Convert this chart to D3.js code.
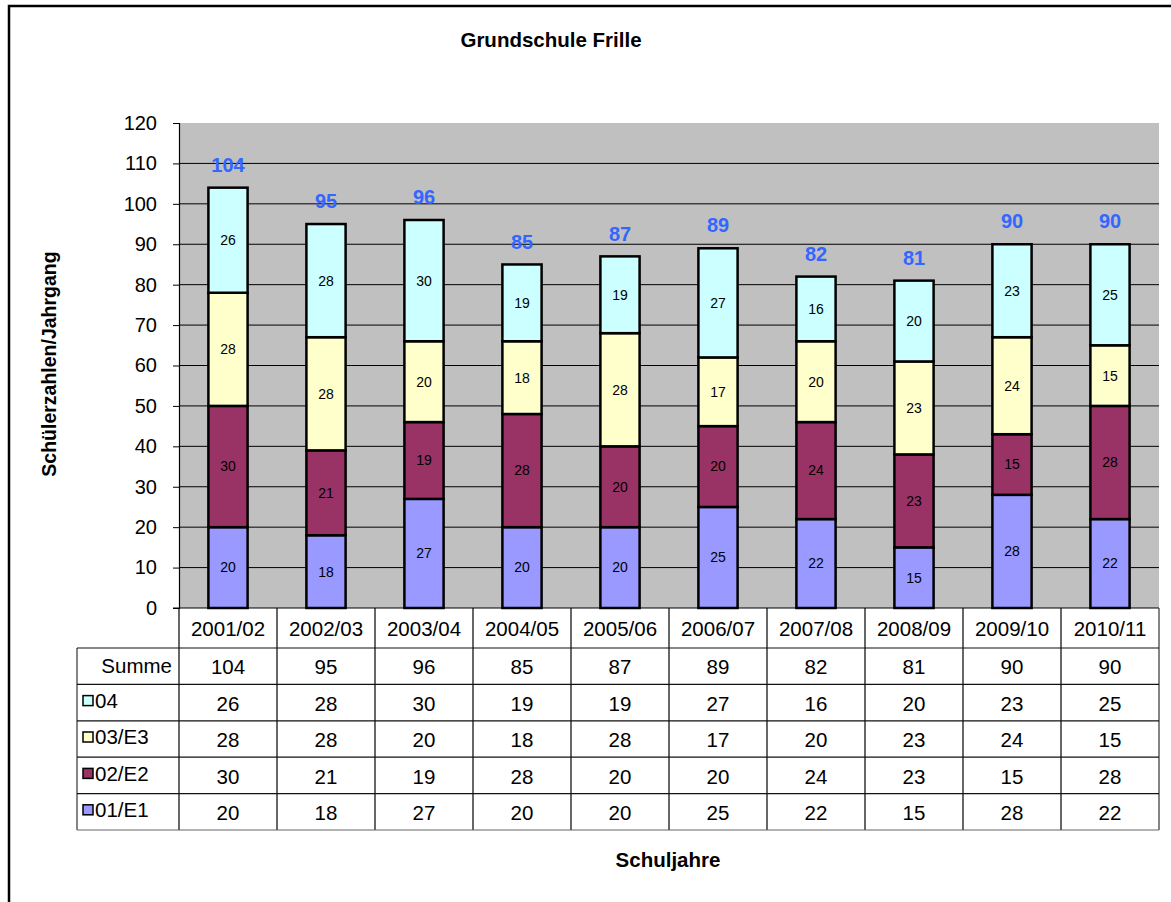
<!DOCTYPE html>
<html>
<head>
<meta charset="utf-8">
<script src="https://cdn.jsdelivr.net/npm/d3@7"></script>
<style>
  html, body { margin: 0; padding: 0; background: #fff; }
  svg { display: block; font-family: "Liberation Sans", Arial, sans-serif; }
</style>
</head>
<body>
<svg id="chart" width="1171" height="902"></svg>
<script>
// ---- data ----
const categories = ["2001/02","2002/03","2003/04","2004/05","2005/06","2006/07","2007/08","2008/09","2009/10","2010/11"];
const seriesNames = ["01/E1","02/E2","03/E3","04"];
const s01E1 = [20,18,27,20,20,25,22,15,28,22];
const s02E2 = [30,21,19,28,20,20,24,23,15,28];
const s03E3 = [28,28,20,18,28,17,20,23,24,15];
const s04   = [26,28,30,19,19,27,16,20,23,25];
const summe = [104,95,96,85,87,89,82,81,90,90];
const yTicks = [0,10,20,30,40,50,60,70,80,90,100,110,120];
const colors = ["#9999FF","#993366","#FFFFCC","#CCFFFF"];

(function () {
const seriesValues = [s01E1, s02E2, s03E3, s04];
const rows = categories.map((c, i) => {
  const r = { cat: c };
  seriesNames.forEach((n, k) => r[n] = seriesValues[k][i]);
  return r;
});

const svg = d3.select("#chart");

// outer frame
svg.append("rect").attr("x", 9).attr("y", 6).attr("width", 1300).attr("height", 1000)
  .attr("fill", "#fff").attr("stroke", "#000").attr("stroke-width", 2.5);

const pL = 179, pR = 1159, pT = 123, pB = 608;
const x = d3.scaleBand().domain(categories).range([pL, pR]).padding(0);
const y = d3.scaleLinear().domain([0, 120]).range([pB, pT]);
const barW = x.bandwidth() * 0.4;

// plot area
svg.append("rect").attr("x", pL).attr("y", pT).attr("width", pR - pL).attr("height", pB - pT)
  .attr("fill", "#C0C0C0");

// gridlines
svg.append("g").selectAll("line").data(yTicks.filter(t => t > 0 && t < 120)).join("line")
  .attr("x1", pL).attr("x2", pR).attr("y1", d => y(d)).attr("y2", d => y(d))
  .attr("stroke", "#000").attr("stroke-width", 1);

// y axis
const yAxis = d3.axisLeft(y).tickValues(yTicks).tickSize(6).tickPadding(16);
const gy = svg.append("g").attr("transform", `translate(${pL},0)`).call(yAxis);
gy.select(".domain").attr("stroke", "#000").attr("stroke-width", 1.2);
gy.selectAll(".tick line").attr("stroke", "#000");
gy.selectAll(".tick text").attr("font-size", 20).attr("fill", "#000")
  .attr("font-family", "Liberation Sans, Arial, sans-serif");

// stacked bars
const stack = d3.stack().keys(seriesNames)(rows);
const layers = svg.append("g").selectAll("g").data(stack).join("g")
  .attr("fill", (d, i) => colors[i]);
layers.selectAll("rect").data(d => d).join("rect")
  .attr("x", d => x(d.data.cat) + (x.bandwidth() - barW) / 2)
  .attr("width", barW)
  .attr("y", d => y(d[1]))
  .attr("height", d => y(d[0]) - y(d[1]))
  .attr("stroke", "#000").attr("stroke-width", 2.5);

// segment labels
layers.selectAll("text").data(d => d).join("text")
  .attr("x", d => x(d.data.cat) + x.bandwidth() / 2)
  .attr("y", d => y((d[0] + d[1]) / 2))
  .attr("dy", "0.35em")
  .attr("text-anchor", "middle")
  .attr("font-size", 14).attr("fill", "#000")
  .text(d => d[1] - d[0]);

// total labels
svg.append("g").selectAll("text").data(categories).join("text")
  .attr("x", d => x(d) + x.bandwidth() / 2)
  .attr("y", (d, i) => y(summe[i]) - 23)
  .attr("dy", "0.36em")
  .attr("text-anchor", "middle")
  .attr("font-size", 20).attr("font-weight", "bold").attr("fill", "#3366FF")
  .text((d, i) => summe[i]);

// bottom axis line
svg.append("line").attr("x1", pL - 6).attr("x2", pR).attr("y1", pB).attr("y2", pB)
  .attr("stroke", "#000").attr("stroke-width", 1.2);

// data table
const headerBottom = 648, rowH = 36.4, tableLeft = 77;
const tableRows = [
  { label: "Summe", values: summe, color: null },
  { label: "04", values: s04, color: colors[3] },
  { label: "03/E3", values: s03E3, color: colors[2] },
  { label: "02/E2", values: s02E2, color: colors[1] },
  { label: "01/E1", values: s01E1, color: colors[0] }
];
const tableBottom = headerBottom + rowH * tableRows.length;
const tg = svg.append("g");

categories.forEach(c => {
  tg.append("line").attr("x1", x(c)).attr("x2", x(c)).attr("y1", pB).attr("y2", tableBottom)
    .attr("stroke", "#000").attr("stroke-width", 1.2);
});
tg.append("line").attr("x1", pR).attr("x2", pR).attr("y1", pB).attr("y2", tableBottom)
  .attr("stroke", "#333").attr("stroke-width", 1.2);
tg.append("line").attr("x1", tableLeft).attr("x2", tableLeft).attr("y1", headerBottom).attr("y2", tableBottom)
  .attr("stroke", "#333").attr("stroke-width", 1.2);
for (let k = 0; k <= tableRows.length; k++) {
  tg.append("line").attr("x1", tableLeft).attr("x2", pR)
    .attr("y1", headerBottom + k * rowH).attr("y2", headerBottom + k * rowH)
    .attr("stroke", k === tableRows.length ? "#666" : "#111").attr("stroke-width", 1.2);
}
tg.selectAll("text.hdr").data(categories).join("text").attr("class", "hdr")
  .attr("x", d => x(d) + x.bandwidth() / 2)
  .attr("y", (pB + headerBottom) / 2 + 1)
  .attr("dy", "0.35em").attr("text-anchor", "middle")
  .attr("font-size", 20.5).attr("fill", "#000")
  .text(d => d);
tableRows.forEach((r, k) => {
  const cy = headerBottom + k * rowH + rowH / 2;
  if (r.color) {
    tg.append("rect").attr("x", 83).attr("y", cy - 7).attr("width", 10).attr("height", 10)
      .attr("fill", r.color).attr("stroke", "#000").attr("stroke-width", 1.5);
    tg.append("text").attr("x", 95).attr("y", cy - 2).attr("dy", "0.35em")
      .attr("font-size", 20.5).attr("fill", "#000").text(r.label);
  } else {
    tg.append("text").attr("x", 172).attr("y", cy).attr("dy", "0.35em").attr("text-anchor", "end")
      .attr("font-size", 20.5).attr("fill", "#000").text(r.label);
  }
  tg.append("g").selectAll("text").data(categories).join("text")
    .attr("x", d => x(d) + x.bandwidth() / 2)
    .attr("y", cy + 1).attr("dy", "0.35em").attr("text-anchor", "middle")
    .attr("font-size", 20.5).attr("fill", "#000")
    .text((d, i) => r.values[i]);
});

svg.append("text").attr("x", 551).attr("y", 47).attr("text-anchor", "middle")
  .attr("font-size", 20.5).attr("font-weight", "bold").text("Grundschule Frille");
svg.append("text").attr("x", 668).attr("y", 867).attr("text-anchor", "middle")
  .attr("font-size", 20.5).attr("font-weight", "bold").text("Schuljahre");
svg.append("text").attr("transform", "translate(56,364) rotate(-90)").attr("text-anchor", "middle")
  .attr("font-size", 19.5).attr("font-weight", "bold").text("Schülerzahlen/Jahrgang");
})();
</script>
</body>
</html>
